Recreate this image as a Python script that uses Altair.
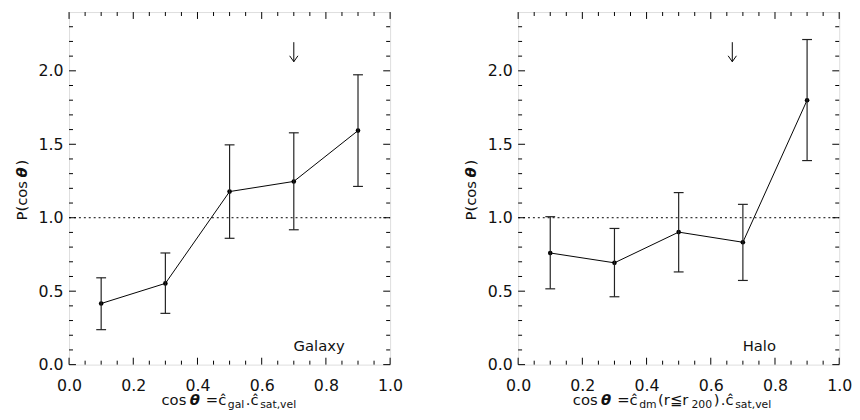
import altair as alt
import pandas as pd

# ---------------- data ----------------
x_bins = [0.1, 0.3, 0.5, 0.7, 0.9]

gal_p = [0.416, 0.553, 1.178, 1.247, 1.593]
gal_hi = [0.591, 0.760, 1.496, 1.578, 1.973]
gal_lo = [0.238, 0.349, 0.860, 0.918, 1.213]

halo_p = [0.760, 0.693, 0.902, 0.833, 1.800]
halo_hi = [1.007, 0.927, 1.171, 1.091, 2.213]
halo_lo = [0.516, 0.462, 0.631, 0.573, 1.389]

gal_arrow_x = 0.70
halo_arrow_x = 0.667
arrow_top = 2.195
arrow_tip = 2.062

ref_level = [1.0]

x_major = [0.0, 0.2, 0.4, 0.6, 0.8, 1.0]
x_minor = [0.05, 0.1, 0.15, 0.25, 0.3, 0.35, 0.45, 0.5, 0.55, 0.65, 0.7, 0.75, 0.85, 0.9, 0.95]
y_major = [0.0, 0.5, 1.0, 1.5, 2.0]
y_minor = [0.1, 0.2, 0.3, 0.4, 0.6, 0.7, 0.8, 0.9, 1.1, 1.2, 1.3, 1.4, 1.6, 1.7, 1.8, 1.9, 2.1, 2.2, 2.3]

panel_labels = ["Galaxy", "Halo"]

# title pieces: (text, kind) ; kind: n = normal, s = subscript, b = bold italic, g = gap
gal_title = [("cos", "n"), ("θ", "b"), ("", "g"), ("=ĉ", "n"), ("gal", "s"),
             (".ĉ", "n"), ("sat,vel", "s")]
halo_title = [("cos", "n"), ("θ", "b"), ("", "g"), ("=ĉ", "n"), ("dm", "s"),
              ("(r≦r", "n"), ("200", "s"), (")", "n"), (".ĉ", "n"), ("sat,vel", "s")]
y_title = [("P(cos", "n"), ("θ", "b"), (")", "n")]

# ---------------- layout / style ----------------
W, H = 326, 358
FONT = "DejaVu Sans"
INK = "#111111"
MAIN, SUB, TICKF = 15, 11, 16
# approximate DejaVu Sans advance widths (em)
ADV = {"c": .55, "o": .612, "s": .521, "=": .838, "ĉ": .55, ".": .318, "(": .39, ")": .39,
       "r": .411, "≦": .95, "2": .636, "0": .636, "g": .635, "a": .613, "l": .278,
       "d": .635, "m": .974, "t": .392, ",": .318, "v": .592, "e": .615, "θ": .72, "P": .603}
GAP = 4
SEP = 1.5
PRE_BOLD = 2.0


def piece_width(t, kind):
    if kind == "g":
        return GAP
    size = SUB if kind == "s" else MAIN
    w = sum(ADV.get(ch, .6) for ch in t) * size + SEP
    return w + (PRE_BOLD if kind == "b" else 0)


def layout(pieces, center):
    total = sum(piece_width(t, k) for t, k in pieces)
    pos, x = [], center - total / 2
    for t, k in pieces:
        pos.append(x + (PRE_BOLD if k == "b" else 0))
        x += piece_width(t, k)
    return pos


xs = alt.Scale(domain=[0, 1], nice=False, zero=False)
ys = alt.Scale(domain=[0, 2.4], nice=False, zero=False)
X_AXIS = alt.Axis(values=x_major, format=".1f", tickSize=0, domain=False, grid=False,
                  labelPadding=13, labelFont=FONT, labelFontSize=TICKF, labelColor=INK,
                  labelFlush=False, labelOverlap=False, labelBound=False, title=None)
Y_AXIS = alt.Axis(values=y_major, format=".1f", tickSize=0, domain=False, grid=False,
                  labelPadding=6, labelFont=FONT, labelFontSize=TICKF, labelColor=INK,
                  labelFlush=False, labelOverlap=False, labelBound=False, title=None)


def XQ(f):
    return alt.X(f"{f}:Q", scale=xs, axis=X_AXIS, title=None)


def YQ(f):
    return alt.Y(f"{f}:Q", scale=ys, axis=Y_AXIS, title=None)


def text_piece(t, kind, px, py, angle=None):
    size = SUB if kind == "s" else MAIN
    kw = dict(font=FONT, fontSize=size, color=INK, align="left", baseline="alphabetic", text=t)
    if kind == "b":
        kw.update(fontWeight="bold", fontStyle="italic")
    if angle is not None:
        kw["angle"] = angle
    return alt.Chart(pd.DataFrame({"d": [0]})).mark_text(**kw).encode(
        x=alt.value(px), y=alt.value(py)
    )


def panel(p, lo, hi, arrow_x, label, title, title_center):
    df = pd.DataFrame({"x": x_bins, "p": p, "lo": lo, "hi": hi})
    base = alt.Chart(df)
    layers = []
    # line + points (carry the axes)
    layers.append(base.mark_line(color="black", strokeWidth=1).encode(x=XQ("x"), y=YQ("p")))
    layers.append(base.mark_circle(color="black", size=22, opacity=1).encode(x=XQ("x"), y=YQ("p")))
    # reference line
    layers.append(alt.Chart(pd.DataFrame({"v": ref_level})).mark_rule(
        color="black", strokeWidth=1, strokeDash=[2, 3]).encode(
        y=YQ("v"), x=alt.value(0), x2=alt.value(W)))
    # error bars
    layers.append(base.mark_rule(color="#222222", strokeWidth=1.2).encode(
        x=XQ("x"), y=YQ("lo"), y2="hi:Q"))
    for col in ["lo", "hi"]:
        layers.append(base.mark_tick(orient="horizontal", size=10, thickness=1.2, color="#222222",
                                     opacity=1).encode(x=XQ("x"), y=YQ(col)))
    # arrow
    adf = pd.DataFrame({"x": [arrow_x], "a": [arrow_top], "b": [arrow_tip]})
    layers.append(alt.Chart(adf).mark_rule(color="black", strokeWidth=1).encode(
        x=XQ("x"), y=YQ("a"), y2="b:Q"))
    layers.append(alt.Chart(adf).mark_point(shape="M -0.7 -1 L 0 0 L 0.7 -1", filled=False,
                                            size=144, color="black", strokeWidth=1,
                                            opacity=1).encode(x=XQ("x"), y=YQ("b")))
    # inside ticks (all four sides)
    for vals, ln in [(y_major, 7), (y_minor, 4)]:
        tdf = alt.Chart(pd.DataFrame({"v": vals}))
        layers.append(tdf.mark_rule(color="black").encode(y=YQ("v"), x=alt.value(0), x2=alt.value(ln)))
        layers.append(tdf.mark_rule(color="black").encode(y=YQ("v"), x=alt.value(W - ln), x2=alt.value(W)))
    for vals, ln in [(x_major, 7), (x_minor, 4)]:
        tdf = alt.Chart(pd.DataFrame({"v": vals}))
        layers.append(tdf.mark_rule(color="black").encode(x=XQ("v"), y=alt.value(H - ln), y2=alt.value(H)))
        layers.append(tdf.mark_rule(color="black").encode(x=XQ("v"), y=alt.value(0), y2=alt.value(ln)))
    # panel label
    layers.append(alt.Chart(pd.DataFrame({"t": [label]})).mark_text(
        font=FONT, fontSize=MAIN, color=INK, align="left", baseline="middle").encode(
        text="t:N", x=alt.value(228), y=alt.value(338.7)))
    # x title
    for (t, kind), px in zip(title, layout(title, title_center)):
        if kind == "g":
            continue
        py = 399.5 if kind != "s" else 402.5
        layers.append(text_piece(t, kind, px, py))
    # y title (rotated, reading upward)
    for (t, kind), off in zip(y_title, layout(y_title, 0)):
        layers.append(text_piece(t, kind, -42.5, 180 - off, angle=270))
    return alt.layer(*layers).properties(width=W, height=H)


left = panel(gal_p, gal_lo, gal_hi, gal_arrow_x, panel_labels[0], gal_title, 163)
right = panel(halo_p, halo_lo, halo_hi, halo_arrow_x, panel_labels[1], halo_title, 157)

chart = alt.hconcat(left, right, spacing=61).properties(
    padding={"left": 7, "top": 0, "right": -1, "bottom": -1}
).configure_view(stroke="black", strokeWidth=1).configure(background="white")

chart.save("out.html", embed_options={"renderer": "svg", "actions": False})
